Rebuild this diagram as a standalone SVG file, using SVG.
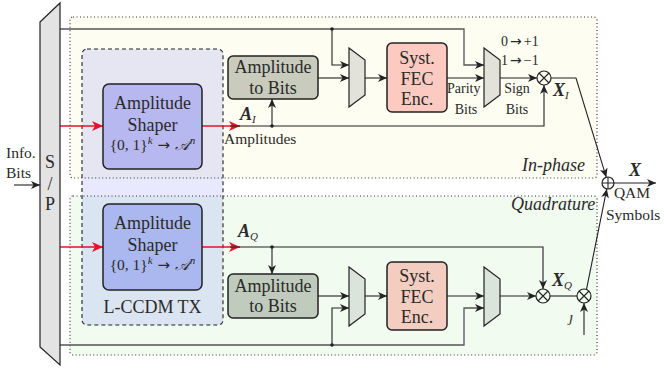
<svg xmlns="http://www.w3.org/2000/svg" width="664" height="370" viewBox="0 0 664 370">
<style>
text{font-family:"Liberation Serif","DejaVu Serif",serif;fill:#2a2a2a}
.t17{font-size:18px}
.t14{font-size:15.5px}
.t13{font-size:14px}
.it{font-style:italic}
.bi{font-style:italic;font-weight:bold}
.ar{font-family:"DejaVu Sans",sans-serif}
.ln{fill:none;stroke:#222;stroke-width:1.1}
.lg{fill:none;stroke:#555;stroke-width:1.3}
.red{fill:none;stroke:#e8102a;stroke-width:1.3}
.blk{stroke:#222;stroke-width:1.5}
.dot{fill:#222}
</style>
<defs>
<marker id="a" markerUnits="userSpaceOnUse" markerWidth="10" markerHeight="8" refX="9" refY="4" orient="auto">
<path d="M0,0 L9,4 L0,8 L2.5,4 z" fill="#222"/>
</marker>
<marker id="ar" markerUnits="userSpaceOnUse" markerWidth="12" markerHeight="10" refX="11" refY="5" orient="auto">
<path d="M0,0 L11,5 L0,10 L3,5 z" fill="#e8102a"/>
</marker>
</defs>

<g id="inphase-region">
<rect x="70" y="17" width="527" height="161" rx="3" fill="#fdfdf1" stroke="#333" stroke-width="1.2" stroke-dasharray="1,2.5"/>
<text x="522" y="171" class="t17 it">In-phase</text>
</g>
<g id="quadrature-region">
<rect x="70" y="196" width="527" height="159" rx="3" fill="#f1fbf0" stroke="#333" stroke-width="1.2" stroke-dasharray="1,2.5"/>
<text x="511" y="210" class="t17 it">Quadrature</text>
</g>
<g id="lccdm-tx">
<rect x="82" y="49" width="141" height="276" rx="5" fill="#0000ff" fill-opacity="0.09" stroke="#222" stroke-width="1.1" stroke-dasharray="4,3"/>
<text x="152.5" y="313" class="t17" text-anchor="middle">L-CCDM TX</text>
</g>

<g id="connectors">
<line x1="14" y1="185" x2="40" y2="185" class="ln" marker-end="url(#a)"/>
<polyline points="60,29 464,29 464,65 484,65" class="lg" marker-end="url(#a)"/>
<polyline points="332,29 332,65 349,65" class="ln" marker-end="url(#a)"/>
<circle cx="332" cy="29" r="1.8" class="dot"/>
<line x1="60" y1="126" x2="103" y2="126" class="red" marker-end="url(#ar)"/>
<line x1="202" y1="126" x2="240" y2="126" class="red" marker-end="url(#ar)"/>
<polyline points="230,126 544,126 544,85" class="ln" marker-end="url(#a)"/>
<line x1="272" y1="126" x2="272" y2="99" class="ln" marker-end="url(#a)"/>
<circle cx="272" cy="126" r="1.8" class="dot"/>
<line x1="318" y1="78" x2="349" y2="78" class="ln" marker-end="url(#a)"/>
<line x1="365" y1="78" x2="387" y2="78" class="ln" marker-end="url(#a)"/>
<line x1="447" y1="78" x2="484" y2="78" class="ln" marker-end="url(#a)"/>
<line x1="500" y1="78" x2="537" y2="78" class="ln" marker-end="url(#a)"/>
<polyline points="551,78 576,78 606.3,177.3" class="ln" marker-end="url(#a)"/>
<polyline points="60,345 464,345 464,308 484,308" class="lg" marker-end="url(#a)"/>
<polyline points="332,345 332,308 349,308" class="ln" marker-end="url(#a)"/>
<circle cx="332" cy="345" r="1.8" class="dot"/>
<line x1="60" y1="247" x2="103" y2="247" class="red" marker-end="url(#ar)"/>
<line x1="202" y1="247" x2="240" y2="247" class="red" marker-end="url(#ar)"/>
<polyline points="230,247 543,247 543,289" class="ln" marker-end="url(#a)"/>
<line x1="272" y1="247" x2="272" y2="274" class="ln" marker-end="url(#a)"/>
<circle cx="272" cy="247" r="1.8" class="dot"/>
<line x1="318" y1="296" x2="349" y2="296" class="ln" marker-end="url(#a)"/>
<line x1="365" y1="296" x2="387" y2="296" class="ln" marker-end="url(#a)"/>
<line x1="447" y1="296" x2="484" y2="296" class="ln" marker-end="url(#a)"/>
<line x1="500" y1="296" x2="536" y2="296" class="ln" marker-end="url(#a)"/>
<line x1="550" y1="296" x2="577" y2="296" class="ln"/>
<line x1="584" y1="335" x2="584" y2="303" class="ln" marker-end="url(#a)"/>
<line x1="586.5" y1="289.3" x2="606.8" y2="188.9" class="ln" marker-end="url(#a)"/>
<line x1="614" y1="183" x2="656" y2="183" class="ln" marker-end="url(#a)"/>
</g>

<g id="sp">
<polygon points="40,22 60,3 60,365 40,347" fill="#e3e3e3" stroke="#222" stroke-width="1.2"/>
<text x="50" y="168" class="t17" text-anchor="middle">S</text>
<text x="50" y="190" class="t17" text-anchor="middle">/</text>
<text x="50" y="210" class="t17" text-anchor="middle">P</text>
</g>
<g id="info-bits">
<text x="6" y="158" class="t14">Info.</text>
<text x="6" y="178" class="t14">Bits</text>
</g>

<g id="shaper-i">
<rect x="103" y="84" width="99" height="85" rx="6" fill="#b8b8f0" class="blk"/>
<text x="152.5" y="109" class="t17" text-anchor="middle">Amplitude</text>
<text x="152.5" y="131" class="t17" text-anchor="middle">Shaper</text>
<text x="152.5" y="150" class="t14" text-anchor="middle">{0, 1}<tspan font-size="11" dy="-6" font-style="italic">k</tspan><tspan dy="6" class="ar" font-size="15"> → </tspan><tspan font-style="italic">𝒜</tspan><tspan font-size="11" dy="-6" font-style="italic">n</tspan></text>
</g>
<g id="shaper-q">
<rect x="103" y="204" width="99" height="86" rx="6" fill="#abb8ef" class="blk"/>
<text x="152.5" y="229" class="t17" text-anchor="middle">Amplitude</text>
<text x="152.5" y="251" class="t17" text-anchor="middle">Shaper</text>
<text x="152.5" y="270" class="t14" text-anchor="middle">{0, 1}<tspan font-size="11" dy="-6" font-style="italic">k</tspan><tspan dy="6" class="ar" font-size="15"> → </tspan><tspan font-style="italic">𝒜</tspan><tspan font-size="11" dy="-6" font-style="italic">n</tspan></text>
</g>

<g id="a2b-i">
<rect x="228" y="56" width="90" height="43" rx="5" fill="#c9cbbd" class="blk"/>
<text x="273" y="73" class="t17" text-anchor="middle">Amplitude</text>
<text x="273" y="94" class="t17" text-anchor="middle">to Bits</text>
</g>
<g id="a2b-q">
<rect x="228" y="274" width="90" height="44" rx="5" fill="#c0cbbd" class="blk"/>
<text x="273" y="292" class="t17" text-anchor="middle">Amplitude</text>
<text x="273" y="312" class="t17" text-anchor="middle">to Bits</text>
</g>

<g id="mux1-i"><polygon points="349,48 365,60 365,95 349,107" fill="#e2e2d8" stroke="#222" stroke-width="1.2"/></g>
<g id="mux1-q"><polygon points="349,267 365,279 365,314 349,326" fill="#dae4da" stroke="#222" stroke-width="1.2"/></g>

<g id="fec-i">
<rect x="387" y="43" width="60" height="69" rx="5" fill="#fccac0" class="blk"/>
<text x="417" y="64" class="t17" text-anchor="middle">Syst.</text>
<text x="417" y="85" class="t17" text-anchor="middle">FEC</text>
<text x="417" y="105" class="t17" text-anchor="middle">Enc.</text>
</g>
<g id="fec-q">
<rect x="387" y="262" width="60" height="68" rx="5" fill="#f3cdc0" class="blk"/>
<text x="417" y="282" class="t17" text-anchor="middle">Syst.</text>
<text x="417" y="303" class="t17" text-anchor="middle">FEC</text>
<text x="417" y="323" class="t17" text-anchor="middle">Enc.</text>
</g>

<g id="mux2-i"><polygon points="484,48 500,60 500,95 484,107" fill="#e2e2d8" stroke="#222" stroke-width="1.2"/></g>
<g id="mux2-q"><polygon points="484,267 500,279 500,314 484,326" fill="#dae4da" stroke="#222" stroke-width="1.2"/></g>

<g id="mult-i">
<circle cx="544" cy="78" r="7" fill="none" stroke="#222" stroke-width="1.2"/>
<path d="M539,73 L549,83 M549,73 L539,83" stroke="#222" stroke-width="1.1"/>
</g>
<g id="mult-q">
<circle cx="543" cy="296" r="7" fill="none" stroke="#222" stroke-width="1.2"/>
<path d="M538,291 L548,301 M548,291 L538,301" stroke="#222" stroke-width="1.1"/>
</g>
<g id="mult-j">
<circle cx="584" cy="296" r="7" fill="none" stroke="#222" stroke-width="1.2"/>
<path d="M579,291 L589,301 M589,291 L579,301" stroke="#222" stroke-width="1.1"/>
</g>
<g id="sum">
<circle cx="608" cy="183" r="6" fill="none" stroke="#222" stroke-width="1.2"/>
<path d="M602,183 L614,183 M608,177 L608,189" stroke="#222" stroke-width="1.1"/>
</g>

<g id="labels">
<text x="501" y="46" class="t13">0<tspan class="ar" font-size="14" dx="2">→</tspan><tspan dx="2">+1</tspan></text>
<text x="501" y="65" class="t13">1<tspan class="ar" font-size="14" dx="2">→</tspan><tspan dx="2">−1</tspan></text>
<text x="447" y="93" class="t13">Parity</text>
<text x="466" y="114" class="t13" text-anchor="middle">Bits</text>
<text x="517" y="93" class="t13" text-anchor="middle">Sign</text>
<text x="517" y="114" class="t13" text-anchor="middle">Bits</text>
<text x="240" y="120" class="t17 bi">A<tspan font-size="11" font-weight="normal" dy="3">I</tspan></text>
<text x="224" y="144" class="t14">Amplitudes</text>
<text x="238" y="237" class="t17 bi">A<tspan font-size="11" font-weight="normal" dy="3">Q</tspan></text>
<text x="553" y="96" class="t17 bi">X<tspan font-size="11" font-weight="normal" dy="3">I</tspan></text>
<text x="552" y="286" class="t17 bi">X<tspan font-size="11" font-weight="normal" dy="3">Q</tspan></text>
<text x="569" y="322" class="t14 it">ȷ</text>
<text x="629" y="176" class="t17 bi">X</text>
<text x="632" y="198" class="t14" text-anchor="middle">QAM</text>
<text x="606" y="220" class="t14">Symbols</text>
</g>
</svg>
